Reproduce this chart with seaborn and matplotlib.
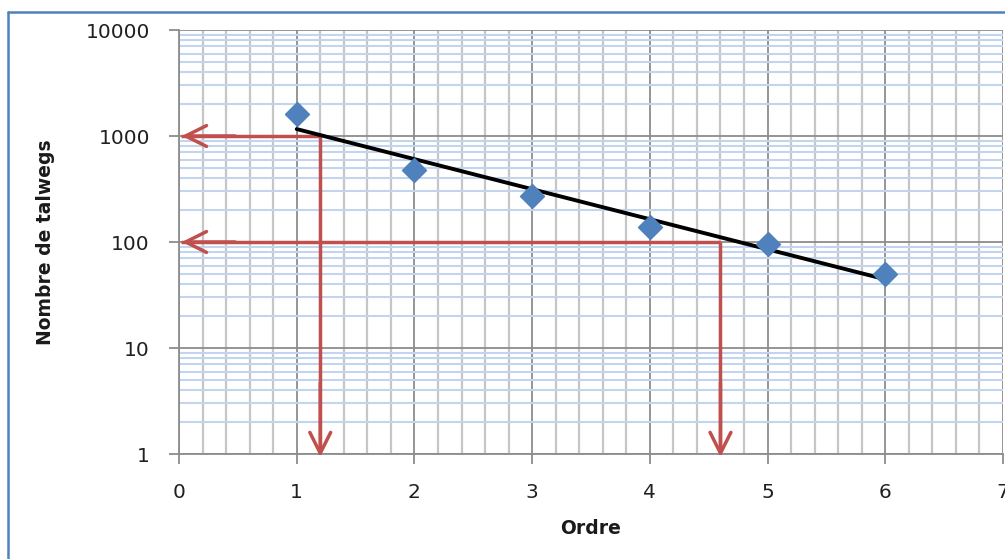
import numpy as np
import pandas as pd
import seaborn as sns
import matplotlib
matplotlib.use("Agg")
import matplotlib.pyplot as plt
from matplotlib.ticker import MultipleLocator, LogLocator, FixedLocator, NullFormatter
from matplotlib.lines import Line2D

ordre = [1, 2, 3, 4, 5, 6]
talwegs = [1600, 480, 270, 140, 95, 50]
lecture_y = [1000, 100]
lecture_x = [1.2, 4.6]
x_ticks = [0, 1, 2, 3, 4, 5, 6, 7]
y_ticks = [1, 10, 100, 1000, 10000]
y_labels = ["1", "10", "100", "1000", "10000"]

df = pd.DataFrame({"Ordre": ordre, "Nombre de talwegs": talwegs})

# courbe de tendance exponentielle (ajustement sur log10)
pente, orig = np.polyfit(df["Ordre"], np.log10(df["Nombre de talwegs"]), 1)
tend = pd.DataFrame({"Ordre": [ordre[0], ordre[-1]]})
tend["val"] = 10 ** (orig + pente * tend["Ordre"])

sns.set_style("white")
plt.rcParams["font.family"] = ["DejaVu Sans"]

fig = plt.figure(figsize=(10.05, 5.59), dpi=100)
ax = fig.add_axes([179 / 1005, 1 - 454 / 559, (1003 - 179) / 1005, (454 - 30) / 559])

ax.set_yscale("log")
ax.set_xlim(0, 7)
ax.set_ylim(1, 10000)

ax.xaxis.set_major_locator(FixedLocator(x_ticks))
ax.xaxis.set_minor_locator(MultipleLocator(0.2))
ax.yaxis.set_major_locator(FixedLocator(y_ticks))
ax.yaxis.set_minor_locator(LogLocator(base=10, subs=np.arange(2, 10)))
ax.yaxis.set_minor_formatter(NullFormatter())
ax.set_yticklabels(y_labels)

ax.grid(which="minor", axis="x", color="#c6c6c6", lw=1.6)
ax.grid(which="minor", axis="y", color="#c2d4ee", lw=1.5)
ax.grid(which="major", axis="both", color="#8c8c8c", lw=1.3)
ax.set_axisbelow(True)

for s in ["top", "right"]:
    ax.spines[s].set_visible(False)
for s in ["left", "bottom"]:
    ax.spines[s].set_color("#8c8c8c")
    ax.spines[s].set_linewidth(1.3)
ax.tick_params(which="major", length=7, width=1.3, color="#8c8c8c", labelsize=14.5,
               labelcolor="#202020", pad=14, direction="out", left=True, bottom=True)
ax.tick_params(which="minor", length=0)
ax.tick_params(axis="y", pad=14)

# fleches de lecture
rouge = "#c0504d"
fleche = dict(arrowstyle="->,head_length=1.5,head_width=0.75", color=rouge, lw=2.5)
for xv, yv in zip(lecture_x, lecture_y):
    ax.plot([0.02, xv], [yv, yv], color=rouge, lw=2.5, zorder=3, solid_capstyle="butt")
    ax.plot([xv, xv], [yv, 1.1], color=rouge, lw=2.5, zorder=3, solid_capstyle="butt")
    ax.annotate("", xy=(0.0, yv), xytext=(0.5, yv), arrowprops=fleche,
                annotation_clip=False, zorder=3)
    ax.annotate("", xy=(xv, 0.88), xytext=(xv, 5), arrowprops=fleche,
                annotation_clip=False, zorder=3)

sns.lineplot(data=tend, x="Ordre", y="val", ax=ax, color="black", lw=2.8, zorder=4)
sns.scatterplot(data=df, x="Ordre", y="Nombre de talwegs", ax=ax, marker="D", s=150,
                color="#4f81bd", edgecolor="#4f81bd", zorder=5, clip_on=False)

ax.set_xlabel("Ordre", fontsize=13.5, fontweight="bold", labelpad=12, color="#1a1a1a")
ax.set_ylabel("Nombre de talwegs", fontsize=13.5, fontweight="bold", labelpad=22, color="#1a1a1a")

# cadre du graphique
cadre = "#4f81bd"
fig.add_artist(Line2D([8 / 1005, 8 / 1005], [0, 1 - 12 / 559], color=cadre, lw=1.8,
                      transform=fig.transFigure))
fig.add_artist(Line2D([8 / 1005, 1], [1 - 12 / 559, 1 - 12 / 559], color=cadre, lw=1.8,
                      transform=fig.transFigure))

fig.savefig("out.png", dpi=100)
